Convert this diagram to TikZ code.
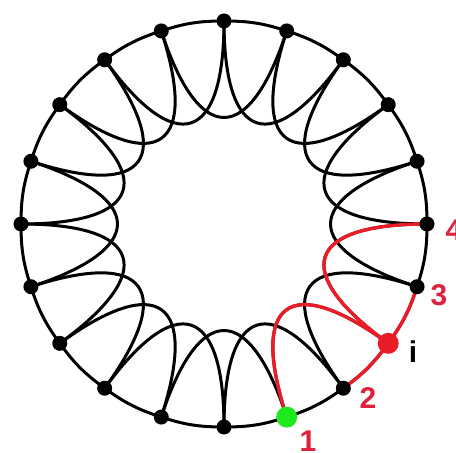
\documentclass[tikz,border=0pt]{standalone}
\usepackage{fontspec}
\setmainfont{Liberation Sans}
\usetikzlibrary{backgrounds}
\definecolor{hlred}{RGB}{234,28,40}
\definecolor{lblred}{RGB}{222,34,62}
\definecolor{hlgreen}{RGB}{30,232,30}
\begin{document}
\begin{tikzpicture}[x=1pt,y=1pt,
  dot/.style={circle,fill=black,inner sep=0pt,minimum size=15pt},
  gdot/.style={circle,fill=hlgreen,inner sep=0pt,minimum size=21pt},
  rdot/.style={circle,fill=hlred,inner sep=0pt,minimum size=21pt},
  ring/.style={line width=3pt},
  lobe/.style={line width=3pt},
  hl/.style={draw=hlred,line width=3.4pt},
  lbl/.style={text=lblred,font=\fontsize{30}{30}\selectfont\bfseries},
  blbl/.style={text=black,font=\fontsize{30}{30}\selectfont\bfseries}]
\useasboundingbox (0,0) rectangle (456,453);
\coordinate (c) at (224,229);
\foreach \k in {0,...,15,17,19}{
  \node[dot] (n\k) at ([shift={(c)}]18*\k:203) {};
}
\node[gdot] (n16) at ([shift={(c)}]288:203) {};
\node[rdot] (n18) at ([shift={(c)}]324:203) {};
\begin{scope}[on background layer]
\foreach \k [evaluate=\k as \nk using {int(mod(\k+1,20))},
             evaluate=\k as \nnk using {int(mod(\k+2,20))}] in {0,...,19}{
  \draw[ring] (n\k.center) to[bend right=9] (n\nk.center);
  \draw[lobe] (n\k.center) to[out=18*\k+180, in=18*\k+216, looseness=2.48] (n\nnk.center);
}
\draw[hl] (n17.center) to[bend right=9] (n18.center);
\draw[hl] (n18.center) to[bend right=9] (n19.center);
\draw[hl] (n16.center) to[out=288+180, in=288+216, looseness=2.48] (n18.center);
\draw[hl] (n18.center) to[out=324+180, in=324+216, looseness=2.48] (n0.center);
\end{scope}
\node[lbl] (l1) at (308,12) {1};
\node[lbl] (l2) at (368,55) {2};
\node[blbl] (li) at (413,101) {i};
\node[lbl] (l3) at (439,158) {3};
\node[lbl] (l4) at (454,223) {4};
\end{tikzpicture}
\end{document}
